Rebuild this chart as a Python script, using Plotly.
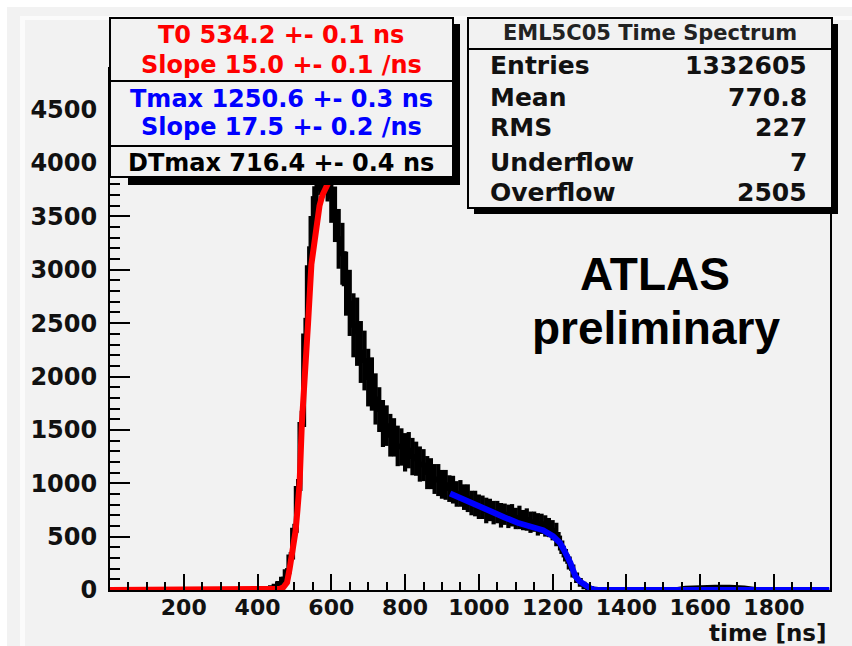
import plotly.graph_objects as go

# ---------------- data ----------------
# black histogram: bin centres (ns), counts and error half-widths
hist_t = list(range(400, 1330, 10))
hist_counts = [
    2, 4, 6, 12, 20, 35, 60, 100, 170, 310,
    560, 950, 1550, 2380, 3020, 3480, 3760, 3930, 3980, 3870,
    3690, 3520, 3290, 3150, 2870, 2690, 2480, 2420, 2230, 2150,
    1990, 1930, 1790, 1690, 1560, 1540, 1450, 1430, 1350, 1340,
    1290, 1310, 1250, 1230, 1180, 1170, 1100, 1090, 1040, 1030,
    990, 985, 950, 940, 900, 905, 870, 860, 815, 810,
    780, 775, 745, 750, 725, 730, 700, 710, 690, 700,
    670, 680, 655, 660, 635, 640, 615, 620, 600, 585,
    560, 520, 440, 360, 290, 215, 140, 90, 55, 30,
    15, 8, 4,
]
hist_err = [
    2, 3, 4, 6, 8, 12, 18, 25, 35, 45,
    60, 90, 130, 170, 200, 210, 220, 230, 230, 230,
    250, 260, 280, 290, 300, 310, 300, 320, 290, 280,
    270, 250, 240, 210, 220, 190, 200, 180, 190, 175,
    180, 170, 175, 160, 165, 150, 155, 145, 140, 150,
    135, 140, 125, 130, 120, 125, 120, 130, 115, 120,
    115, 110, 120, 105, 110, 105, 115, 100, 110, 105,
    100, 110, 95, 105, 100, 95, 105, 95, 100, 90,
    95, 110, 70, 55, 45, 35, 28, 20, 15, 10,
    8, 5, 4,
]
# low tails of the histogram outside the main range
tail_t = [0, 100, 200, 300, 390, 1340, 1400, 1460, 1520, 1560, 1600, 1640, 1680, 1720, 1760, 1820, 1900, 1950]
tail_counts = [0, 0, 1, 1, 2, 3, 2, 2, 5, 25, 32, 36, 34, 28, 10, 4, 3, 2]

# red fit (rising edge)
red_t = [0, 100, 200, 300, 400, 440, 460, 470, 480, 487, 496, 503, 508, 514, 520, 528,
         537, 546, 553, 560, 568, 576, 584, 592, 598]
red_v = [0, 0, 0, 0, 1, 4, 10, 25, 70, 200, 360, 550, 740, 1000, 1550, 2100,
         2500, 3050, 3250, 3350, 3600, 3700, 3770, 3810, 3860]

# blue fit (trailing edge)
blue_t = [922, 950, 980, 1011, 1040, 1070, 1105, 1140, 1174, 1201, 1220, 1230, 1240,
          1248, 1255, 1262, 1274, 1285, 1295, 1305, 1315, 1330, 1500, 1700, 1950]
blue_v = [905, 860, 810, 760, 720, 680, 630, 595, 560, 505, 441, 380, 320,
          255, 190, 128, 80, 50, 28, 10, 3, 0, 0, 0, 0]

x_ticks = [200, 400, 600, 800, 1000, 1200, 1400, 1600, 1800]
y_ticks = [0, 500, 1000, 1500, 2000, 2500, 3000, 3500, 4000, 4500]

fit_lines = [
    ("T0 534.2 +- 0.1 ns", "#ff0000"),
    ("Slope 15.0 +- 0.1 /ns", "#ff0000"),
    ("Tmax 1250.6 +- 0.3 ns", "#0000ff"),
    ("Slope 17.5 +- 0.2 /ns", "#0000ff"),
    ("DTmax 716.4 +- 0.4 ns", "#000000"),
]
stats_title = "EML5C05 Time Spectrum"
stats_labels = ["Entries", "Mean", "RMS", "Underflow", "Overflow"]
stats_values = ["1332605", "770.8", "227", "7", "2505"]

# ---------------- layout geometry ----------------
W, H = 852, 646
L, R, B, T = 110, 22, 56, 67
PW, PH = W - L - R, H - T - B
BG = "#f2f2f2"
RF = "DejaVu Sans"


def px(x):
    return (x - L) / PW


def py(y):
    return (H - B - y) / PH


fig = go.Figure()

# black histogram (error bars + line)
fig.add_trace(go.Scatter(
    x=tail_t[:5], y=tail_counts[:5], mode="lines",
    line=dict(color="black", width=3), hoverinfo="skip", showlegend=False))
fig.add_trace(go.Scatter(
    x=hist_t, y=hist_counts, mode="lines",
    line=dict(color="black", width=5, shape="hvh"),
    error_y=dict(type="data", array=hist_err, color="black", thickness=4.2, width=0),
    showlegend=False))
fig.add_trace(go.Scatter(
    x=tail_t[5:], y=tail_counts[5:], mode="lines",
    line=dict(color="black", width=3), hoverinfo="skip", showlegend=False))
# fits
fig.add_trace(go.Scatter(x=red_t, y=red_v, mode="lines",
                         line=dict(color="#ff0000", width=6), showlegend=False))
fig.add_trace(go.Scatter(x=blue_t, y=blue_v, mode="lines",
                         line=dict(color="#0000ff", width=6), showlegend=False))

shapes = []
# canvas bevel
shapes.append(dict(type="rect", xref="paper", yref="paper", x0=px(0), x1=px(7), y0=py(H), y1=py(0),
                   fillcolor="#ffffff", line=dict(width=0), layer="below"))
shapes.append(dict(type="rect", xref="paper", yref="paper", x0=px(0), x1=px(W), y0=py(7), y1=py(0),
                   fillcolor="#ffffff", line=dict(width=0), layer="below"))
shapes.append(dict(type="rect", xref="paper", yref="paper", x0=px(20), x1=px(25), y0=py(H), y1=py(16),
                   fillcolor="#fbfbfb", line=dict(width=0), layer="below"))
shapes.append(dict(type="rect", xref="paper", yref="paper", x0=px(20), x1=px(W), y0=py(20), y1=py(16),
                   fillcolor="#fbfbfb", line=dict(width=0), layer="below"))

# fit box: shadow, box, dividers
shapes.append(dict(type="rect", xref="paper", yref="paper", x0=px(128), x1=px(460), y0=py(185), y1=py(24),
                   fillcolor="black", line=dict(width=0), layer="above"))
shapes.append(dict(type="rect", xref="paper", yref="paper", x0=px(110), x1=px(453), y0=py(177), y1=py(18),
                   fillcolor=BG, line=dict(color="black", width=2), layer="above"))
for yy in (81, 146):
    shapes.append(dict(type="line", xref="paper", yref="paper", x0=px(110), x1=px(453), y0=py(yy), y1=py(yy),
                       line=dict(color="black", width=2), layer="above"))
# stats box
shapes.append(dict(type="rect", xref="paper", yref="paper", x0=px(474), x1=px(838), y0=py(214), y1=py(24),
                   fillcolor="black", line=dict(width=0), layer="above"))
shapes.append(dict(type="rect", xref="paper", yref="paper", x0=px(468), x1=px(832), y0=py(208), y1=py(18),
                   fillcolor=BG, line=dict(color="black", width=2), layer="above"))
shapes.append(dict(type="line", xref="paper", yref="paper", x0=px(468), x1=px(832), y0=py(49), y1=py(49),
                   line=dict(color="black", width=2), layer="above"))

ann = []
fit_y = [35, 65, 99, 127, 163]
for (txt, col), yy in zip(fit_lines, fit_y):
    ann.append(dict(text=txt, x=px(281), y=py(yy), xref="paper", yref="paper", showarrow=False,
                    xanchor="center", yanchor="middle",
                    font=dict(family=RF, size=24, color=col, weight="bold")))
ann.append(dict(text=stats_title, x=px(650), y=py(33), xref="paper", yref="paper", showarrow=False,
                xanchor="center", yanchor="middle",
                font=dict(family=RF, size=21, color="#222222", weight="bold")))
row_y = [65, 97, 128, 162, 192]
for lab, val, yy in zip(stats_labels, stats_values, row_y):
    ann.append(dict(text=lab, x=px(488), y=py(yy), xref="paper", yref="paper", showarrow=False,
                    xanchor="left", yanchor="middle",
                    font=dict(family=RF, size=25, color="#111111", weight="bold")))
    ann.append(dict(text=val, x=px(809), y=py(yy), xref="paper", yref="paper", showarrow=False,
                    xanchor="right", yanchor="middle",
                    font=dict(family=RF, size=25, color="#111111", weight="bold")))
# axis title
ann.append(dict(text="time [ns]", x=px(829), y=py(633), xref="paper", yref="paper", showarrow=False,
                xanchor="right", yanchor="middle",
                font=dict(family=RF, size=23, color="#111111", weight="bold")))
# ATLAS label
ann.append(dict(text="ATLAS", x=px(655), y=py(274), xref="paper", yref="paper", showarrow=False,
                xanchor="center", yanchor="middle",
                font=dict(family="Liberation Sans", size=46, color="black", weight="bold")))
ann.append(dict(text="preliminary", x=px(656), y=py(328), xref="paper", yref="paper", showarrow=False,
                xanchor="center", yanchor="middle",
                font=dict(family="Liberation Sans", size=46, color="black", weight="bold")))

fig.update_layout(
    width=W, height=H,
    margin=dict(l=L, r=R, t=T, b=B, pad=0),
    paper_bgcolor=BG, plot_bgcolor=BG,
    shapes=shapes, annotations=ann, showlegend=False,
    xaxis=dict(range=[0, 1952], tickmode="array", tickvals=x_ticks, ticktext=[str(v) for v in x_ticks],
               ticks="inside", ticklen=16, tickwidth=2, tickcolor="black",
               minor=dict(tickmode="linear", tick0=0, dtick=50, ticks="inside", ticklen=8,
                          tickwidth=2, tickcolor="black", showgrid=False),
               showline=True, linewidth=2, linecolor="black", mirror=False, showgrid=False, zeroline=False,
               tickfont=dict(family=RF, size=22, color="#111111", weight="bold"), ticklabelstandoff=-3),
    yaxis=dict(range=[0, 4900], tickmode="array", tickvals=y_ticks, ticktext=[str(v) for v in y_ticks],
               ticks="inside", ticklen=20, tickwidth=2, tickcolor="black",
               minor=dict(tickmode="linear", tick0=0, dtick=100, ticks="inside", ticklen=10,
                          tickwidth=2, tickcolor="black", showgrid=False),
               showline=True, linewidth=2, linecolor="black", mirror=True, showgrid=False, zeroline=False,
               tickfont=dict(family=RF, size=24, color="#111111", weight="bold"), ticklabelstandoff=6),
)

fig.write_html("out.html")
